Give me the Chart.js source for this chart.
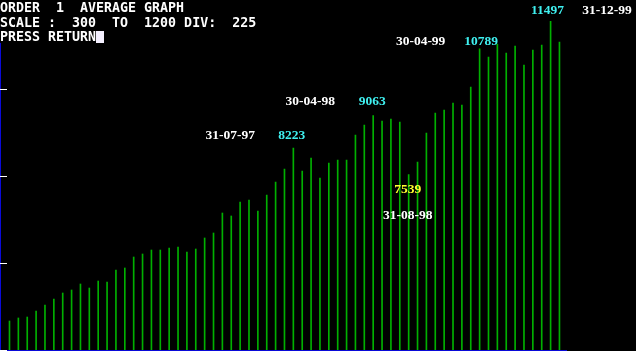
<!DOCTYPE html>
<html>
<head>
<meta charset="utf-8">
<title>Order 1 average graph</title>
<script src="https://cdn.jsdelivr.net/npm/chart.js@4/dist/chart.umd.min.js"></script>
<style>
    html, body { margin: 0; padding: 0; background: #000; overflow: hidden; }
    canvas { display: block; }
</style>
</head>
<body>
<canvas id="graph" width="636" height="351"></canvas>
<script>
// monthly averages, Nov 94 .. Jan 00
const values = [
    3750, 3828, 3853, 4009, 4164, 4319, 4474, 4552, 4707, 4603, 4784, 4759,
    5069, 5121, 5405, 5483, 5586, 5586, 5638, 5664, 5534, 5612, 5897, 6026,
    6543, 6466, 6828, 6879, 6595, 7009, 7345, 7681, 8223, 7629, 7966, 7448,
    7836, 7914, 7914, 8560, 8819, 9063, 8922, 8974, 8897, 7539, 7862, 8612,
    9129, 9207, 9388, 9336, 9802, 10789, 10578, 10914, 10681, 10862, 10371, 10759,
    10888, 11497, 10966
];
const startYear = 1994;
const startMonth = 10; // November, 0-based
const scaleTicks = [3000, 5250, 7500, 9750, 12000];
const markedIndex = [32, 41, 45, 53, 61];
const markedColor = ['#3ff0f0', '#3ff0f0', '#ffff30', '#3ff0f0', '#3ff0f0'];
const headerLines = [
    'ORDER  1  AVERAGE GRAPH',
    'SCALE :  300  TO  1200 DIV:  225',
    'PRESS RETURN'
];

// month-end dates as dd-mm-yy
const pad = n => String(n).padStart(2, '0');
const categories = values.map((v, i) => {
    const m = startMonth + i;
    const y = startYear + Math.floor(m / 12);
    const mo = m % 12;
    const last = new Date(y, mo + 1, 0).getDate();
    return `${pad(last)}-${pad(mo + 1)}-${pad(y % 100)}`;
});

// label placement around the marked bars: [value dx, value dy, date dx, date dy]
const markOffsets = [
    [-1.5, -13, -63, -13],
    [-1, -14.5, -63, -14.5],
    [-1, 15, -1, 41.5],
    [1.5, -7, -59, -7],
    [-3, -10.5, 56.5, -10.5]
];

const screenPlugin = {
    id: 'screen',
    afterDraw(chart) {
        const { ctx, chartArea: area, scales: { y } } = chart;
        const meta = chart.getDatasetMeta(0);
        ctx.save();

        // axes
        ctx.fillStyle = '#0a0ad8';
        ctx.fillRect(area.left, area.top, 1, area.bottom - area.top + 1);
        ctx.fillRect(area.left, area.bottom, area.right - area.left, 1);

        // scale divisions
        ctx.fillStyle = '#ffffff';
        scaleTicks.forEach(t => {
            const py = Math.round(y.getPixelForValue(t));
            ctx.fillRect(area.left, Math.min(py, area.bottom), 7, 1);
        });

        // marked values and dates
        ctx.font = 'bold 13.5px "Liberation Serif", serif';
        ctx.textAlign = 'center';
        ctx.textBaseline = 'middle';
        markedIndex.forEach((idx, k) => {
            const bar = meta.data[idx];
            const [vdx, vdy, ddx, ddy] = markOffsets[k];
            ctx.fillStyle = markedColor[k];
            ctx.fillText(String(values[idx]), bar.x + vdx, bar.y + vdy);
            ctx.fillStyle = '#ffffff';
            ctx.fillText(categories[idx], bar.x + ddx, bar.y + ddy);
        });

        // header text, drawn over the axis like the terminal did
        ctx.font = 'bold 13.3px "DejaVu Sans Mono", monospace';
        ctx.textAlign = 'left';
        ctx.textBaseline = 'alphabetic';
        headerLines.forEach((line, i) => {
            ctx.fillStyle = '#000';
            ctx.fillRect(0, i * 14.3, line.length * 8 + 8, 14.3);
            ctx.fillStyle = '#ffffff';
            ctx.fillText(line, 0, 12 + i * 14.5);
        });
        // cursor
        ctx.fillStyle = '#f4f0ff';
        ctx.fillRect(headerLines[2].length * 8, 31, 8, 12);

        ctx.restore();
    }
};

new Chart(document.getElementById('graph'), {
    type: 'bar',
    data: {
        datasets: [{
            data: values.map((v, i) => ({ x: i, y: v })),
            backgroundColor: '#00b000',
            borderWidth: 0,
            barThickness: 1,
        }],
    },
    options: {
        responsive: false,
        animation: false,
        devicePixelRatio: 1,
        layout: { padding: { left: 0, right: 69, top: 2, bottom: 1 } },
        plugins: { legend: { display: false }, tooltip: { enabled: false } },
        scales: {
            x: { type: 'linear', display: false, offset: false, min: -1.07, max: 62.85 },
            y: { display: false, min: 3000, max: 12000 },
        },
    },
    plugins: [screenPlugin],
});
</script>
</body>
</html>
